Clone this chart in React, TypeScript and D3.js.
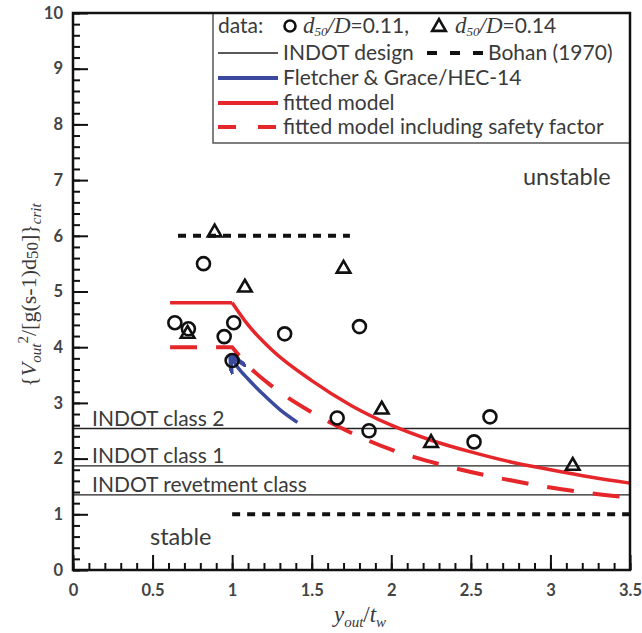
import React from 'react';
import * as d3 from 'd3';

// measured data, d50/D = 0.11 (circles)
const circleX = [0.64, 0.725, 0.95, 1.01, 1.0, 0.82, 1.33, 1.8, 1.66, 1.86, 2.52, 2.62];
const circleY = [4.44, 4.33, 4.19, 4.44, 3.76, 5.5, 4.24, 4.37, 2.73, 2.5, 2.3, 2.75];
// measured data, d50/D = 0.14 (triangles)
const triX = [0.89, 1.08, 1.7, 0.72, 1.94, 2.25, 3.14];
const triY = [6.06, 5.07, 5.41, 4.24, 2.88, 2.28, 1.87];

// fitted model
const fitX = [1.0, 1.1, 1.25, 1.5, 1.75, 2.0, 2.25, 2.5, 2.75, 3.0, 3.25, 3.5];
const fitY = [4.8, 4.4, 3.95, 3.4, 2.95, 2.6, 2.33, 2.12, 1.94, 1.8, 1.67, 1.56];
const fitFlat = [0.61, 1.0];
// fitted model including safety factor
const sfX = [0.61, 1.0, 1.1, 1.25, 1.5, 1.75, 2.0, 2.25, 2.5, 2.75, 3.0, 3.25, 3.5];
const sfY = [4.0, 4.0, 3.67, 3.3, 2.83, 2.46, 2.16, 1.94, 1.76, 1.61, 1.48, 1.38, 1.3];
// Fletcher & Grace / HEC-14
const fgX = [1.41, 1.3, 1.2, 1.1, 1.04, 1.0];
const fgY = [2.65, 2.88, 3.14, 3.43, 3.62, 3.8];

// INDOT design levels
const indotY = [2.54, 1.87, 1.35];
const indotLabels = ['INDOT class 2', 'INDOT class 1', 'INDOT revetment class'];
// Bohan (1970)
const bohanUpper = { x0: 0.66, x1: 1.74, y: 6.0 };
const bohanLower = { x0: 1.0, x1: 3.5, y: 1.0 };

const xTicks = [0, 0.5, 1, 1.5, 2, 2.5, 3, 3.5];
const yTicks = [0, 1, 2, 3, 4, 5, 6, 7, 8, 9, 10];

const W = 642, H = 633;
const SANS = 'Lato, "Noto Sans", sans-serif';
const SERIF = '"Liberation Serif", "DejaVu Serif", serif';
const RED = '#e5262b';
const BLUE = '#3b4a9e';
const TXT = '#3a3a3a';

export default function App() {
  const xAxisRef = React.useRef<SVGGElement>(null);
  const yAxisRef = React.useRef<SVGGElement>(null);

  const x = d3.scaleLinear().domain([0, 3.5]).range([73, 630]);
  const y = d3.scaleLinear().domain([0, 10]).range([570, 13]);

  React.useEffect(() => {
    const gx = d3.select(xAxisRef.current);
    gx.selectAll('*').remove();
    gx.append('g').call(d3.axisBottom(x).ticks(35).tickSize(-7).tickFormat(() => ''));
    gx.append('g').call(
      d3.axisBottom(x).tickValues(xTicks).tickSize(-15).tickPadding(14).tickFormat(d => String(d))
    );
    const gy = d3.select(yAxisRef.current);
    gy.selectAll('*').remove();
    gy.append('g').call(d3.axisLeft(y).ticks(50).tickSize(-7).tickFormat(() => ''));
    gy.append('g').call(
      d3.axisLeft(y).tickValues(yTicks).tickSize(-15).tickPadding(10).tickFormat(d => String(d))
    );
    [gx, gy].forEach(g => {
      g.selectAll('.domain').remove();
      g.selectAll('line').attr('stroke', '#111').attr('stroke-width', 2);
      g.selectAll('text')
        .attr('font-family', SANS)
        .attr('font-weight', 'bold')
        .attr('font-size', 16.5)
        .attr('fill', '#444');
    });
  }, []);

  const line = d3.line<[number, number]>().x(d => x(d[0])).y(d => y(d[1]));
  const curve = d3.line<[number, number]>().x(d => x(d[0])).y(d => y(d[1])).curve(d3.curveMonotoneX);
  const smooth = d3.line<[number, number]>().x(d => x(d[0])).y(d => y(d[1])).curve(d3.curveCatmullRom);
  const zip = (a: number[], b: number[]) => a.map((v, i) => [v, b[i]] as [number, number]);
  const tri = d3.symbol().type(d3.symbolTriangle).size(80);

  const sfPts = zip(sfX, sfY);

  const lx0 = 218, lx1 = 278, ltx = 283;
  const rows = [26, 53, 78, 103, 127];
  const FS = 21;

  return (
    <svg width={W} height={H} style={{ position: 'absolute', left: 0, top: 0, background: '#fff' }}>
      <defs>
        <marker id="arrow" viewBox="0 0 10 10" refX="8" refY="5" markerWidth="5" markerHeight="5" orient="auto">
          <path d="M0,0 L10,5 L0,10" fill="none" stroke={BLUE} strokeWidth={2.5} />
        </marker>
      </defs>

      {/* INDOT design levels */}
      {indotY.map((v, i) => (
        <g key={i}>
          <line x1={x(0)} x2={x(3.5)} y1={y(v)} y2={y(v)} stroke="#222" strokeWidth={1.3} />
          <text x={92} y={y(v) - 3} fontFamily={SANS} fontSize={FS} fill={TXT}>{indotLabels[i]}</text>
        </g>
      ))}

      {/* Bohan (1970) */}
      {[bohanUpper, bohanLower].map((b, i) => (
        <line key={i} x1={x(b.x0)} x2={x(b.x1)} y1={y(b.y)} y2={y(b.y)}
          stroke="#111" strokeWidth={4} strokeDasharray="8 7" />
      ))}

      {/* fitted model */}
      <path d={line(fitFlat.map(v => [v, fitY[0]] as [number, number])) || ''} fill="none" stroke={RED} strokeWidth={3.5} />
      <path d={curve(zip(fitX, fitY)) || ''} fill="none" stroke={RED} strokeWidth={3.5} />
      {/* fitted model including safety factor */}
      <path d={(line(sfPts.slice(0, 2)) || '') + (curve(sfPts.slice(1)) || '').replace(/^M[^C L]*/, '')}
        fill="none" stroke={RED} strokeWidth={4} strokeDasharray="27 19" />

      {/* Fletcher & Grace */}
      <path d={smooth(zip(fgX, fgY)) || ''} fill="none" stroke={BLUE}
        strokeWidth={3.5} markerEnd="url(#arrow)" />

      {/* data points */}
      {circleX.map((v, i) => (
        <circle key={'c' + i} cx={x(v)} cy={y(circleY[i])} r={6.5} fill="none" stroke="#111" strokeWidth={2.6} />
      ))}
      {triX.map((v, i) => (
        <path key={'t' + i} d={tri() || ''} transform={`translate(${x(v)},${y(triY[i])})`}
          fill="none" stroke="#111" strokeWidth={2.6} strokeLinejoin="miter" />
      ))}

      <text x={150} y={545} fontFamily={SANS} fontSize={FS + 2.5} fill={TXT}>stable</text>
      <text x={523} y={185} fontFamily={SANS} fontSize={FS + 2.5} fill={TXT}>unstable</text>

      {/* legend */}
      <rect x={213} y={13} width={417} height={130} fill="#fff" stroke="#555" strokeWidth={1.5} />
      <g fontFamily={SANS} fontSize={FS} fill={TXT}>
        <text x={lx0} y={rows[0] + 7}>data:</text>
        <circle cx={290} cy={rows[0]} r={5.5} fill="none" stroke="#111" strokeWidth={2.6} />
        <text x={303} y={rows[0] + 7}>
          <tspan fontFamily={SERIF} fontStyle="italic" fontSize={23}>d</tspan>
          <tspan fontFamily={SERIF} fontStyle="italic" fontSize={13} dy={3}>50</tspan>
          <tspan fontFamily={SERIF} fontStyle="italic" fontSize={23} dy={-3}>/D</tspan>
          <tspan>=0.11,</tspan>
        </text>
        <path d={tri() || ''} transform={`translate(439,${rows[0] + 1})`} fill="none" stroke="#111" strokeWidth={2.6} />
        <text x={455} y={rows[0] + 7}>
          <tspan fontFamily={SERIF} fontStyle="italic" fontSize={23}>d</tspan>
          <tspan fontFamily={SERIF} fontStyle="italic" fontSize={13} dy={3}>50</tspan>
          <tspan fontFamily={SERIF} fontStyle="italic" fontSize={23} dy={-3}>/D</tspan>
          <tspan>=0.14</tspan>
        </text>

        <line x1={lx0} x2={lx1} y1={rows[1]} y2={rows[1]} stroke="#222" strokeWidth={1.3} />
        <text x={ltx} y={rows[1] + 7}>INDOT design</text>
        <line x1={427} x2={484} y1={rows[1]} y2={rows[1]} stroke="#111" strokeWidth={4} strokeDasharray="10 13" />
        <text x={488} y={rows[1] + 7}>Bohan (1970)</text>

        <line x1={lx0} x2={lx1} y1={rows[2]} y2={rows[2]} stroke={BLUE} strokeWidth={4} />
        <text x={ltx} y={rows[2] + 7}>Fletcher &amp; Grace/HEC-14</text>

        <line x1={lx0} x2={lx1} y1={rows[3]} y2={rows[3]} stroke={RED} strokeWidth={4} />
        <text x={ltx} y={rows[3] + 7}>fitted model</text>

        <line x1={lx0} x2={lx1} y1={rows[4]} y2={rows[4]} stroke={RED} strokeWidth={4} strokeDasharray="18 22" />
        <text x={ltx} y={rows[4] + 7}>fitted model including safety factor</text>
      </g>

      {/* frame and axes */}
      <rect x={x(0)} y={y(10)} width={x(3.5) - x(0)} height={y(0) - y(10)} fill="none" stroke="#111" strokeWidth={2.5} />
      <g ref={xAxisRef} transform={`translate(0,${y(0)})`} />
      <g ref={yAxisRef} transform={`translate(${x(0)},0)`} />

      {/* axis titles */}
      <text x={360} y={622} textAnchor="middle" fontFamily={SERIF} fontSize={23} fill={TXT}>
        <tspan fontStyle="italic">y</tspan>
        <tspan fontStyle="italic" fontSize={15} dy={5}>out</tspan>
        <tspan dy={-5}>/</tspan>
        <tspan fontStyle="italic">t</tspan>
        <tspan fontStyle="italic" fontSize={15} dy={5}>w</tspan>
      </text>
      <text transform="translate(36,295) rotate(-90)" textAnchor="middle" fontFamily={SERIF} fontSize={22} fill={TXT}>
        <tspan>{'{'}</tspan>
        <tspan fontStyle="italic">V</tspan>
        <tspan fontStyle="italic" fontSize={15} dy={5}>out</tspan>
        <tspan fontSize={15} dy={-13}>2</tspan>
        <tspan dy={8}>/[g(s-1)d</tspan>
        <tspan fontSize={17} dy={2}>50</tspan>
        <tspan dy={-2}>]{'}'}</tspan>
        <tspan fontStyle="italic" fontSize={15} dy={5}>crit</tspan>
      </text>
    </svg>
  );
}
